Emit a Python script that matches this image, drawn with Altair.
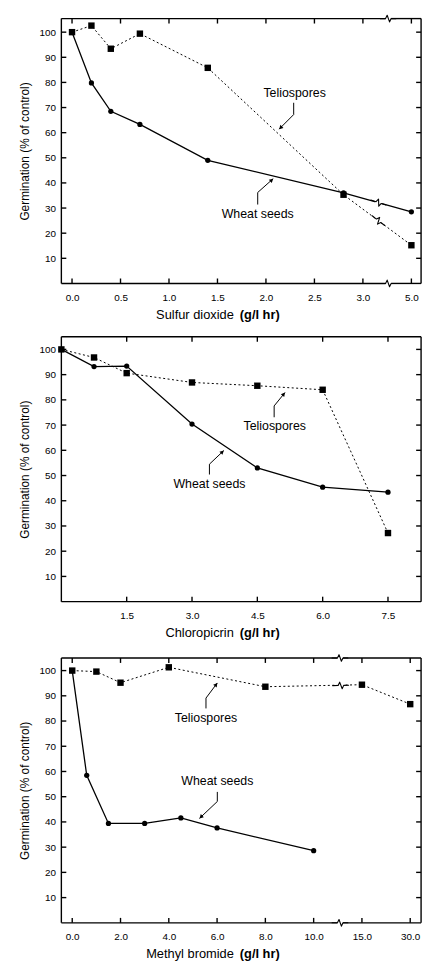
import math
import altair as alt
import numpy as np
import pandas as pd

FONT = "Liberation Sans"

# ---------------- data ----------------
# Panel 1: Sulfur dioxide
so2_dose = [0.0, 0.2, 0.4, 0.7, 1.4, 2.8, 5.0]
so2_wheat = [100, 79.8, 68.5, 63.3, 49.0, 36.0, 28.5]
so2_telio = [100, 102.6, 93.4, 99.4, 85.8, 35.3, 15.2]
so2_ticks = [0.0, 0.5, 1.0, 1.5, 2.0, 2.5, 3.0, 5.0]
so2_labels = ["0.0", "0.5", "1.0", "1.5", "2.0", "2.5", "3.0", "5.0"]

# Panel 2: Chloropicrin
cp_dose = [0.0, 0.75, 1.5, 3.0, 4.5, 6.0, 7.5]
cp_wheat = [100, 93.2, 93.4, 70.4, 53.0, 45.4, 43.4]
cp_telio = [100, 96.8, 90.6, 86.9, 85.6, 84.0, 27.2]
cp_ticks = [1.5, 3.0, 4.5, 6.0, 7.5]
cp_labels = ["1.5", "3.0", "4.5", "6.0", "7.5"]

# Panel 3: Methyl bromide
mb_wheat_dose = [0.0, 0.6, 1.5, 3.0, 4.5, 6.0, 10.0]
mb_wheat = [100, 58.5, 39.4, 39.4, 41.6, 37.6, 28.6]
mb_telio_dose = [0.0, 1.0, 2.0, 4.0, 8.0, 15.0, 30.0]
mb_telio = [100, 99.6, 95.2, 101.3, 93.6, 94.4, 86.7]
mb_ticks = [0.0, 2.0, 4.0, 6.0, 8.0, 10.0, 15.0, 30.0]
mb_labels = ["0.0", "2.0", "4.0", "6.0", "8.0", "10.0", "15.0", "30.0"]

y_ticks = [10, 20, 30, 40, 50, 60, 70, 80, 90, 100]

# broken-axis maps (dose -> axis position)
so2_map = ([0.0, 3.0, 5.0], [0.0, 3.0, 3.5])
cp_map = ([0.0, 7.5], [0.0, 7.5])
mb_map = ([0.0, 10.0, 15.0, 30.0], [0.0, 10.0, 12.0, 14.0])

W, H = 364, 268
TICK_LEN = 5.0      # px, inward ticks
ZIG_UNIT = 8.0      # px, half-width of break symbol
ZIG = [(-1, 0), (-0.32, 0), (-0.12, -0.42), (0.18, 0.42), (0.38, 0), (1, 0)]
COVER = [(-0.42, 0), (0.48, 0)]
HEAD = "M 0 0 L -1 -0.55 L -1 0.55 Z"


def to_pos(dose, m):
    return [float(v) for v in np.interp(dose, m[0], m[1])]


def label_expr(pos, labels):
    expr = "''"
    for p, l in reversed(list(zip(pos, labels))):
        expr = f"abs(datum.value - {p}) < 0.001 ? '{l}' : ({expr})"
    return expr


def panel(cfg):
    xd, yd = cfg["xdom"], cfg["ydom"]
    sx = W / (xd[1] - xd[0])
    sy = H / (yd[1] - yd[0])
    xs = alt.Scale(domain=xd, nice=False, zero=False)
    ys = alt.Scale(domain=yd, nice=False, zero=False)
    tick_pos = to_pos(cfg["ticks"], cfg["map"])
    xaxis = alt.Axis(values=tick_pos, labelExpr=label_expr(tick_pos, cfg["labels"]),
                     tickSize=0, domain=False, grid=False, labelPadding=9,
                     title=None, labelFlush=False, labelOverlap=False)
    yaxis = alt.Axis(values=y_ticks, tickSize=0, domain=False, grid=False,
                     labelPadding=6, title="Germination (% of control)", titlePadding=8)

    def enc():
        return dict(x=alt.X("x:Q", scale=xs, axis=xaxis),
                    y=alt.Y("y:Q", scale=ys, axis=yaxis))

    def shape_pts(cx, cy, ang, pts, gid):
        a = math.radians(ang)
        out = []
        for j, (u, v) in enumerate(pts):
            px, py = u * ZIG_UNIT, v * ZIG_UNIT
            rx = px * math.cos(a) - py * math.sin(a)
            ry = px * math.sin(a) + py * math.cos(a)
            out.append({"x": cx + rx / sx, "y": cy - ry / sy, "id": gid, "o": j})
        return out

    wheat_df = pd.DataFrame({"x": to_pos(cfg["wheat_dose"], cfg["map"]), "y": cfg["wheat"]})
    telio_df = pd.DataFrame({"x": to_pos(cfg["telio_dose"], cfg["map"]), "y": cfg["telio"]})

    layers = []

    # ---- data lines ----
    layers.append(alt.Chart(telio_df).mark_line(color="black", strokeWidth=1,
                                                strokeDash=[2, 2.5]).encode(**enc()))
    layers.append(alt.Chart(wheat_df).mark_line(color="black", strokeWidth=1.3).encode(**enc()))

    # ---- break markers ----
    zig_rows, cover_rows = [], []
    gid = 0
    for (x, y, a) in cfg["line_breaks"]:
        cover_rows += shape_pts(x, y, a, COVER, gid)
        zig_rows += shape_pts(x, y, a, ZIG, gid)
        gid += 1
    for b in cfg["frame_breaks"]:
        for yv in (yd[0], yd[1]):
            zig_rows += shape_pts(b, yv, 0, ZIG, gid)
            gid += 1
    if cover_rows:
        layers.append(alt.Chart(pd.DataFrame(cover_rows)).mark_line(color="white", strokeWidth=4)
                      .encode(**enc(), detail="id:N", order="o:Q"))
    if zig_rows:
        layers.append(alt.Chart(pd.DataFrame(zig_rows)).mark_line(
            color="black", strokeWidth=1.1, strokeJoin="round", strokeCap="round")
            .encode(**enc(), detail="id:N", order="o:Q"))

    # ---- markers ----
    layers.append(alt.Chart(wheat_df).mark_circle(color="black", size=28, opacity=1).encode(**enc()))
    layers.append(alt.Chart(telio_df).mark_square(color="black", size=42, opacity=1).encode(**enc()))

    # ---- annotation arrows ----
    rows, heads = [], []
    for i, pts in enumerate(cfg["arrows"]):
        for j, (x, y) in enumerate(pts):
            rows.append({"x": x, "y": y, "id": i, "o": j})
        (ex, ey), (tx, ty) = pts[-2], pts[-1]
        ang = math.degrees(math.atan2(-(ty - ey) * sy, (tx - ex) * sx)) % 360
        heads.append({"x": tx, "y": ty, "a": ang})
    layers.append(alt.Chart(pd.DataFrame(rows)).mark_line(color="black", strokeWidth=1,
                                                         strokeJoin="round")
                  .encode(**enc(), detail="id:N", order="o:Q"))
    layers.append(alt.Chart(pd.DataFrame(heads)).mark_point(shape=HEAD, filled=True, color="black",
                                                           size=64, opacity=1)
                  .encode(**enc(), angle=alt.Angle("a:Q", scale=None)))

    notes = pd.DataFrame({"x": [p[0] for p in cfg["notes"]], "y": [p[1] for p in cfg["notes"]],
                          "t": [p[2] for p in cfg["notes"]]})
    layers.append(alt.Chart(notes).mark_text(font=FONT, fontSize=12.5, color="black",
                                            align="center", baseline="middle")
                  .encode(**enc(), text="t:N"))

    # ---- frame (rules, with gaps at axis breaks) and inward ticks ----
    gl = 0.32 * ZIG_UNIT / sx
    gr = 0.38 * ZIG_UNIT / sx
    fr = [(xd[0], yd[0], xd[0], yd[1]), (xd[1], yd[0], xd[1], yd[1])]
    for yv in (yd[0], yd[1]):
        x0 = xd[0]
        for b in cfg["frame_breaks"]:
            fr.append((x0, yv, b - gl, yv))
            x0 = b + gr
        fr.append((x0, yv, xd[1], yv))
    for yv in y_ticks:
        fr.append((xd[0], yv, xd[0] + TICK_LEN / sx, yv))
        fr.append((xd[1] - TICK_LEN / sx, yv, xd[1], yv))
    for xv in tick_pos:
        fr.append((xv, yd[0], xv, yd[0] + TICK_LEN / sy))
        fr.append((xv, yd[1] - TICK_LEN / sy, xv, yd[1]))
    frame_df = pd.DataFrame(fr, columns=["x", "y", "xe", "ye"])
    layers.append(alt.Chart(frame_df).mark_rule(color="#000000", strokeWidth=1.4, opacity=1)
                  .encode(**enc(), x2=alt.X2("xe"), y2=alt.Y2("ye")))

    # ---- x-axis title: substance (normal) + unit (bold) ----
    split = W * 0.485
    layers.append(alt.Chart(pd.DataFrame({"t": [cfg["title"]]})).mark_text(
        font=FONT, fontSize=13, align="right", baseline="middle", color="black")
        .encode(x=alt.value(split - 2), y=alt.value(H + 32), text="t:N"))
    layers.append(alt.Chart(pd.DataFrame({"t": ["(g/l hr)"]})).mark_text(
        font=FONT, fontSize=13, fontWeight="bold", align="left", baseline="middle", color="black")
        .encode(x=alt.value(split + 4), y=alt.value(H + 32), text="t:N"))

    return alt.layer(*layers).properties(width=W, height=H)


p1 = panel(dict(
    xdom=[-0.11, 3.6], ydom=[0, 105.4], map=so2_map, ticks=so2_ticks, labels=so2_labels,
    wheat_dose=so2_dose, wheat=so2_wheat, telio_dose=so2_dose, telio=so2_telio,
    frame_breaks=[3.26], line_breaks=[(3.16, 32.2, 18), (3.16, 25.0, 37.7)],
    arrows=[[(2.286, 71.9), (2.286, 67.2), (2.136, 61.4)],
            [(1.915, 31.4), (1.915, 36.2), (2.075, 41.7)]],
    notes=[(2.296, 75.8, "Teliospores"), (1.915, 27.5, "Wheat seeds")],
    title="Sulfur dioxide"))

p2 = panel(dict(
    xdom=[0, 8.26], ydom=[0, 105], map=cp_map, ticks=cp_ticks, labels=cp_labels,
    wheat_dose=cp_dose, wheat=cp_wheat, telio_dose=cp_dose, telio=cp_telio,
    frame_breaks=[], line_breaks=[],
    arrows=[[(4.886, 73.1), (4.886, 77.6), (5.136, 82.9)],
            [(3.40, 50.4), (3.40, 54.5), (3.73, 59.9)]],
    notes=[(4.90, 69.6, "Teliospores"), (3.40, 46.5, "Wheat seeds")],
    title="Chloropicrin"))

p3 = panel(dict(
    xdom=[-0.45, 14.45], ydom=[0, 105], map=mb_map, ticks=mb_ticks, labels=mb_labels,
    wheat_dose=mb_wheat_dose, wheat=mb_wheat, telio_dose=mb_telio_dose, telio=mb_telio,
    frame_breaks=[11.09], line_breaks=[(11.12, 94.1, -1.4)],
    arrows=[[(5.54, 85.0), (5.54, 89.1), (6.01, 95.1)],
            [(6.01, 51.9), (6.01, 48.1), (5.27, 41.4)]],
    notes=[(5.54, 81.2, "Teliospores"), (6.01, 56.4, "Wheat seeds")],
    title="Methyl bromide"))

chart = alt.vconcat(p1, p2, p3, spacing=12).properties(
    padding={"left": 9, "top": 0, "right": 5, "bottom": 0},
    background="white",
).configure_view(stroke="transparent").configure_axis(
    labelFont=FONT, labelFontSize=10, labelColor="black",
    titleFont=FONT, titleFontSize=12, titleFontWeight="normal", titleColor="black"
)

chart.save("out.html", embed_options={"renderer": "svg", "actions": False})
